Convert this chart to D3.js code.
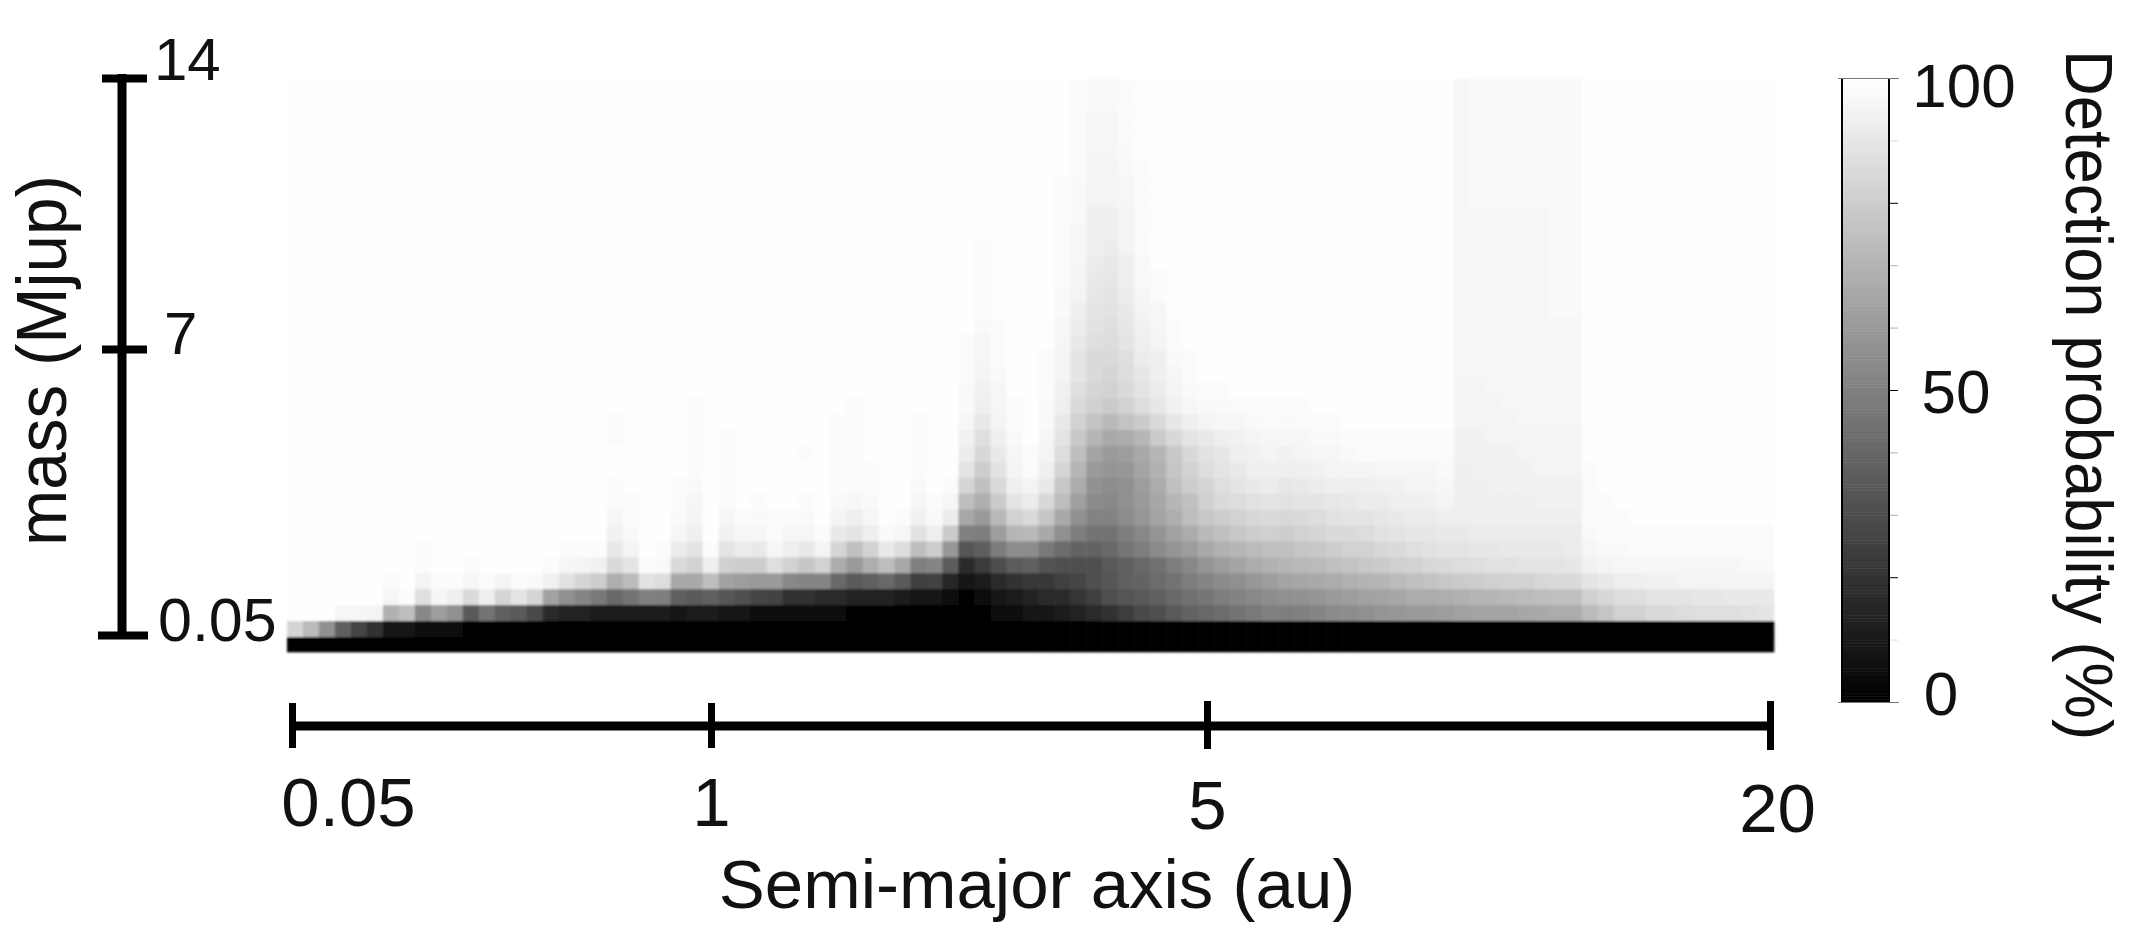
<!DOCTYPE html>
<html>
<head>
<meta charset="utf-8">
<title>Detection probability</title>
<script src="https://cdn.jsdelivr.net/npm/d3@7/dist/d3.min.js"></script>
<style>
html,body{margin:0;padding:0;background:#fff;}
svg{display:block;}
text{font-family:"Liberation Sans",Arial,sans-serif;fill:#111;}
</style>
</head>
<body>
<svg id="chart" width="2140" height="934"></svg>
<script>
// Detection probability (%), one array per mass row, bottom row first.
const row00=[0,0,0,0,0,0,0,0,0,0, 0,0,0,0,0,0,0,0,0,0, 0,0,0,0,0,0,0,0,0,0, 0,0,0,0,0,0,0,0,0,0, 0,0,0,0,0,0,0,0,0,0, 0,0,0,0,0,0,0,0,0,0, 0,0,0,0,0,0,0,0,0,0, 0,0,0,0,0,0,0,0,0,0, 0,0,0,0,0,0,0,0,0,0, 0,0,0];
const row01=[83,73,56,38,27,19,8,9,5,4, 4,2,2,1,1,1,0,0,0,0, 0,0,0,0,0,0,0,0,0,0, 0,0,0,0,0,0,0,0,0,0, 0,0,0,0,0,0,0,0,0,0, 0,0,0,0,0,0,0,0,0,0, 0,0,0,0,0,0,0,0,0,0, 0,0,0,0,0,0,0,0,0,0, 0,0,0,0,0,0,0,0,0,0, 0,0,0];
const row02=[99,99,99,96,96,95,69,74,53,61, 56,35,45,38,35,29,16,14,13,11, 10,11,11,11,9,10,10,7,7,6, 6,4,4,4,3,2,2,2,1,1, 1,1,0,1,4,5,8,9,11,13, 17,20,24,28,31,35,39,40,42,45, 47,50,49,50,52,54,55,56,58,59, 60,60,61,63,64,64,64,65,66,67, 67,73,77,82,82,85,85,86,87,87, 87,88,89];
const row03=[99,99,99,99,99,99,96,98,87,96, 93,85,93,83,89,83,63,56,52,47, 41,45,50,49,38,35,38,34,31,27, 26,20,19,17,16,14,13,13,10,8, 8,5,2,4,9,10,13,16,17,21, 25,31,33,35,38,41,44,46,49,51, 53,55,56,57,58,60,61,63,64,65, 67,67,68,69,71,71,72,73,74,75, 75,81,84,86,87,89,89,89,90,90, 91,91,91];
const row04=[99,99,99,99,99,99,98,99,95,98, 98,96,98,95,98,97,94,88,83,80, 68,73,88,86,66,66,74,63,61,60, 60,53,52,52,41,35,38,41,35,25, 26,15,9,11,16,20,22,22,25,27, 31,34,38,39,42,45,49,52,54,56, 59,61,64,65,66,67,69,70,71,73, 75,76,78,79,80,81,82,82,84,85, 85,89,91,93,93,94,94,95,95,95, 95,95,95];
const row05=[99,99,99,99,99,99,99,99,98,99, 99,98,99,99,99,99,98,96,95,94, 85,89,98,97,85,82,93,81,80,80, 87,82,77,82,67,60,68,74,66,50, 52,36,17,23,30,36,38,32,31,31, 31,35,38,40,44,49,53,58,61,64, 67,69,71,72,73,75,76,78,79,81, 82,84,85,86,87,88,88,89,89,89, 90,94,95,96,96,96,96,96,96,96, 96,97,97];
const row06=[99,99,99,99,99,99,99,99,98,99, 99,99,99,99,99,99,99,98,98,98, 91,95,99,98,92,89,98,89,92,91, 96,93,90,95,83,75,82,91,86,74, 80,59,33,37,48,55,55,47,42,39, 39,41,46,49,54,58,61,66,69,71, 73,75,75,77,78,80,82,82,84,85, 87,88,89,89,90,90,91,91,91,91, 92,96,97,97,98,98,98,98,98,98, 98,98,98];
const row07=[99,99,99,99,99,99,99,99,99,99, 99,99,99,99,99,99,99,99,99,99, 94,97,99,99,96,93,99,94,96,96, 98,96,96,98,91,89,93,97,96,88, 93,79,50,49,61,71,72,66,56,49, 45,45,49,53,58,63,67,72,75,78, 80,81,80,82,83,85,85,86,88,89, 90,90,91,91,92,92,92,92,92,92, 92,97,98,98,98,98,98,98,98,98, 98,98,98];
const row08=[99,99,99,99,99,99,99,99,99,99, 99,99,99,99,99,99,99,99,99,99, 96,98,99,99,97,95,99,96,98,97, 98,98,97,99,95,93,96,99,98,94, 97,92,65,60,72,82,85,77,66,56, 51,51,55,59,64,68,74,78,80,82, 84,85,84,85,86,88,89,89,90,91, 92,92,93,93,93,93,93,93,93,93, 93,98,98,98,99,99,99,99,99,99, 99,99,99];
const row09=[99,99,99,99,99,99,99,99,99,99, 99,99,99,99,99,99,99,99,99,99, 98,98,99,99,98,96,99,98,99,98, 99,99,98,99,97,96,97,99,99,96, 98,96,74,68,79,89,92,84,74,62, 54,53,56,60,65,71,75,81,85,86, 88,89,88,89,89,90,91,92,92,93, 93,94,95,93,93,93,93,93,94,94, 94,98,98,99,99,99,99,99,99,99, 99,99,99];
const row10=[99,99,99,99,99,99,99,99,99,99, 99,99,99,99,99,99,99,99,99,99, 98,99,99,99,98,97,99,98,99,99, 99,99,99,99,98,98,98,99,99,97, 99,98,83,75,85,93,95,91,78,67, 57,55,56,61,67,75,80,83,87,89, 91,92,90,91,92,93,93,93,94,94, 95,95,96,93,93,94,94,94,94,94, 94,98,99,99,99,99,99,99,99,99, 99,99,99];
const row11=[99,99,99,99,99,99,99,99,99,99, 99,99,99,99,99,99,99,99,99,99, 99,99,99,99,99,98,99,98,99,99, 99,99,99,99,98,98,98,99,99,98, 99,99,89,80,88,95,98,93,83,71, 60,58,59,64,69,77,82,86,89,91, 93,93,93,93,94,95,95,95,96,96, 96,96,97,93,94,94,94,94,95,95, 95,98,99,99,99,99,99,99,99,99, 99,99,99];
const row12=[99,99,99,99,99,99,99,99,99,99, 99,99,99,99,99,99,99,99,99,99, 99,99,99,99,99,98,99,98,99,99, 99,99,98,99,98,98,99,99,99,98, 99,99,92,84,91,96,98,95,86,74, 64,60,61,66,71,78,84,88,90,93, 94,95,94,95,96,96,97,98,98,98, 98,98,98,94,94,94,94,95,95,95, 95,99,99,99,99,99,99,99,99,99, 99,99,99];
const row13=[99,99,99,99,99,99,99,99,99,99, 99,99,99,99,99,99,99,99,99,99, 98,99,99,99,99,98,99,98,99,99, 99,99,99,99,98,98,99,99,99,98, 99,99,94,87,93,97,99,96,89,78, 71,66,67,71,79,84,89,91,93,94, 95,96,96,96,97,97,98,98,98,98, 98,98,98,94,94,95,95,95,95,95, 95,99,99,99,99,99,99,99,99,99, 99,99,99];
const row14=[99,99,99,99,99,99,99,99,99,99, 99,99,99,99,99,99,99,99,99,99, 98,99,99,99,99,98,99,99,99,99, 99,99,99,99,98,98,99,99,99,98, 99,99,96,90,95,98,99,97,91,82, 76,72,76,79,85,90,93,95,96,96, 97,98,97,98,98,98,99,99,99,99, 99,99,99,95,95,95,95,96,96,96, 96,99,99,99,99,99,99,99,99,99, 99,99,99];
const row15=[99,99,99,99,99,99,99,99,99,99, 99,99,99,99,99,99,99,99,99,99, 99,99,99,99,99,98,99,99,99,99, 99,99,99,99,99,98,99,99,99,99, 99,99,97,93,96,98,99,97,93,85, 81,79,82,86,90,94,96,97,97,98, 98,98,98,98,99,99,99,99,99,99, 99,99,99,95,95,95,96,96,96,96, 96,99,99,99,99,99,99,99,99,99, 99,99,99];
const row16=[99,99,99,99,99,99,99,99,99,99, 99,99,99,99,99,99,99,99,99,99, 99,99,99,99,99,99,99,99,99,99, 99,99,99,99,99,99,99,99,99,99, 99,99,97,94,96,99,99,98,94,87, 83,82,85,89,92,95,97,98,98,99, 99,99,99,99,99,99,99,99,99,99, 99,99,99,95,95,96,96,96,96,96, 96,99,99,99,99,99,99,99,99,99, 99,99,99];
const row17=[99,99,99,99,99,99,99,99,99,99, 99,99,99,99,99,99,99,99,99,99, 99,99,99,99,99,99,99,99,99,99, 99,99,99,99,99,99,99,99,99,99, 99,99,98,95,97,99,99,98,95,89, 85,83,86,90,93,96,98,99,99,99, 99,99,99,99,99,99,99,99,99,99, 99,99,99,96,96,96,96,96,96,96, 96,99,99,99,99,99,99,99,99,99, 99,99,99];
const row18=[99,99,99,99,99,99,99,99,99,99, 99,99,99,99,99,99,99,99,99,99, 99,99,99,99,99,99,99,99,99,99, 99,99,99,99,99,99,99,99,99,99, 99,99,98,96,98,99,99,98,95,89, 85,85,87,92,93,97,98,99,99,99, 99,99,99,99,99,99,99,99,99,99, 99,99,99,96,96,96,96,96,96,96, 96,99,99,99,99,99,99,99,99,99, 99,99,99];
const row19=[99,99,99,99,99,99,99,99,99,99, 99,99,99,99,99,99,99,99,99,99, 99,99,99,99,99,99,99,99,99,99, 99,99,99,99,99,99,99,99,99,99, 99,99,98,96,98,99,99,99,96,91, 87,86,89,93,95,98,99,99,99,99, 99,99,99,99,99,99,99,99,99,99, 99,99,99,96,96,96,96,96,96,96, 96,99,99,99,99,99,99,99,99,99, 99,99,99];
const row20=[99,99,99,99,99,99,99,99,99,99, 99,99,99,99,99,99,99,99,99,99, 99,99,99,99,99,99,99,99,99,99, 99,99,99,99,99,99,99,99,99,99, 99,99,99,97,98,99,99,99,96,92, 88,87,90,94,96,98,99,99,99,99, 99,99,99,99,99,99,99,99,99,99, 99,99,99,96,96,96,96,96,96,96, 96,99,99,99,99,99,99,99,99,99, 99,99,99];
const row21=[99,99,99,99,99,99,99,99,99,99, 99,99,99,99,99,99,99,99,99,99, 99,99,99,99,99,99,99,99,99,99, 99,99,99,99,99,99,99,99,99,99, 99,99,99,98,99,99,99,99,97,93, 89,88,91,95,96,99,99,99,99,99, 99,99,99,99,99,99,99,99,99,99, 99,99,99,96,96,96,96,96,96,97, 97,99,99,99,99,99,99,99,99,99, 99,99,99];
const row22=[99,99,99,99,99,99,99,99,99,99, 99,99,99,99,99,99,99,99,99,99, 99,99,99,99,99,99,99,99,99,99, 99,99,99,99,99,99,99,99,99,99, 99,99,99,98,99,99,99,99,97,95, 90,89,92,96,98,99,99,99,99,99, 99,99,99,99,99,99,99,99,99,99, 99,99,99,96,96,96,96,96,96,97, 97,99,99,99,99,99,99,99,99,99, 99,99,99];
const row23=[99,99,99,99,99,99,99,99,99,99, 99,99,99,99,99,99,99,99,99,99, 99,99,99,99,99,99,99,99,99,99, 99,99,99,99,99,99,99,99,99,99, 99,99,99,98,99,99,99,99,98,95, 91,90,93,97,98,99,99,99,99,99, 99,99,99,99,99,99,99,99,99,99, 99,99,99,96,96,96,96,96,96,97, 97,99,99,99,99,99,99,99,99,99, 99,99,99];
const row24=[99,99,99,99,99,99,99,99,99,99, 99,99,99,99,99,99,99,99,99,99, 99,99,99,99,99,99,99,99,99,99, 99,99,99,99,99,99,99,99,99,99, 99,99,99,98,99,99,99,99,98,96, 92,91,93,97,99,99,99,99,99,99, 99,99,99,99,99,99,99,99,99,99, 99,99,99,96,96,96,96,96,96,97, 97,99,99,99,99,99,99,99,99,99, 99,99,99];
const row25=[99,99,99,99,99,99,99,99,99,99, 99,99,99,99,99,99,99,99,99,99, 99,99,99,99,99,99,99,99,99,99, 99,99,99,99,99,99,99,99,99,99, 99,99,99,98,99,99,99,99,98,96, 93,92,95,98,99,99,99,99,99,99, 99,99,99,99,99,99,99,99,99,99, 99,99,99,96,96,96,96,96,96,97, 97,99,99,99,99,99,99,99,99,99, 99,99,99];
const row26=[99,99,99,99,99,99,99,99,99,99, 99,99,99,99,99,99,99,99,99,99, 99,99,99,99,99,99,99,99,99,99, 99,99,99,99,99,99,99,99,99,99, 99,99,99,99,99,99,99,99,98,96, 93,93,95,98,99,99,99,99,99,99, 99,99,99,99,99,99,99,99,99,99, 99,99,99,96,96,96,96,96,96,97, 97,99,99,99,99,99,99,99,99,99, 99,99,99];
const row27=[99,99,99,99,99,99,99,99,99,99, 99,99,99,99,99,99,99,99,99,99, 99,99,99,99,99,99,99,99,99,99, 99,99,99,99,99,99,99,99,99,99, 99,99,99,99,99,99,99,99,98,97, 93,93,95,98,99,99,99,99,99,99, 99,99,99,99,99,99,99,99,99,99, 99,99,99,96,96,96,96,96,96,97, 97,99,99,99,99,99,99,99,99,99, 99,99,99];
const row28=[99,99,99,99,99,99,99,99,99,99, 99,99,99,99,99,99,99,99,99,99, 99,99,99,99,99,99,99,99,99,99, 99,99,99,99,99,99,99,99,99,99, 99,99,99,99,99,99,99,99,98,97, 95,95,96,98,99,99,99,99,99,99, 99,99,99,99,99,99,99,99,99,99, 99,99,99,96,97,97,97,97,97,97, 97,99,99,99,99,99,99,99,99,99, 99,99,99];
const row29=[99,99,99,99,99,99,99,99,99,99, 99,99,99,99,99,99,99,99,99,99, 99,99,99,99,99,99,99,99,99,99, 99,99,99,99,99,99,99,99,99,99, 99,99,99,99,99,99,99,99,98,97, 95,95,96,98,99,99,99,99,99,99, 99,99,99,99,99,99,99,99,99,99, 99,99,99,96,97,97,97,97,97,97, 97,99,99,99,99,99,99,99,99,99, 99,99,99];
const row30=[99,99,99,99,99,99,99,99,99,99, 99,99,99,99,99,99,99,99,99,99, 99,99,99,99,99,99,99,99,99,99, 99,99,99,99,99,99,99,99,99,99, 99,99,99,99,99,99,99,99,99,98, 95,95,97,98,99,99,99,99,99,99, 99,99,99,99,99,99,99,99,99,99, 99,99,99,96,97,97,97,97,97,97, 97,99,99,99,99,99,99,99,99,99, 99,99,99];
const row31=[99,99,99,99,99,99,99,99,99,99, 99,99,99,99,99,99,99,99,99,99, 99,99,99,99,99,99,99,99,99,99, 99,99,99,99,99,99,99,99,99,99, 99,99,99,99,99,99,99,99,99,98, 96,96,97,99,99,99,99,99,99,99, 99,99,99,99,99,99,99,99,99,99, 99,99,99,96,97,97,97,97,97,97, 97,99,99,99,99,99,99,99,99,99, 99,99,99];
const row32=[99,99,99,99,99,99,99,99,99,99, 99,99,99,99,99,99,99,99,99,99, 99,99,99,99,99,99,99,99,99,99, 99,99,99,99,99,99,99,99,99,99, 99,99,99,99,99,99,99,99,99,98, 96,96,98,99,99,99,99,99,99,99, 99,99,99,99,99,99,99,99,99,99, 99,99,99,96,97,97,97,97,97,97, 97,99,99,99,99,99,99,99,99,99, 99,99,99];
const row33=[99,99,99,99,99,99,99,99,99,99, 99,99,99,99,99,99,99,99,99,99, 99,99,99,99,99,99,99,99,99,99, 99,99,99,99,99,99,99,99,99,99, 99,99,99,99,99,99,99,99,99,98, 96,96,98,99,99,99,99,99,99,99, 99,99,99,99,99,99,99,99,99,99, 99,99,99,96,97,97,97,97,97,97, 97,99,99,99,99,99,99,99,99,99, 99,99,99];
const row34=[99,99,99,99,99,99,99,99,99,99, 99,99,99,99,99,99,99,99,99,99, 99,99,99,99,99,99,99,99,99,99, 99,99,99,99,99,99,99,99,99,99, 99,99,99,99,99,99,99,99,99,98, 97,97,98,99,99,99,99,99,99,99, 99,99,99,99,99,99,99,99,99,99, 99,99,99,96,97,97,97,97,97,97, 97,99,99,99,99,99,99,99,99,99, 99,99,99];
const row35=[99,99,99,99,99,99,99,99,99,99, 99,99,99,99,99,99,99,99,99,99, 99,99,99,99,99,99,99,99,99,99, 99,99,99,99,99,99,99,99,99,99, 99,99,99,99,99,99,99,99,99,98, 97,97,98,99,99,99,99,99,99,99, 99,99,99,99,99,99,99,99,99,99, 99,99,99,96,97,97,97,97,97,97, 97,99,99,99,99,99,99,99,99,99, 99,99,99];
const detectionRows=[row00,row01,row02,row03,row04,row05,row06,row07,row08,row09,row10,row11,row12,row13,row14,row15,row16,row17,row18,row19,row20,row21,row22,row23,row24,row25,row26,row27,row28,row29,row30,row31,row32,row33,row34,row35];

const semiMajorTicks=[0.05,1,5,20];
const massTicks=[0.05,7,14];
const colorbarLabels=[0,50,100];
const colorbarMinorTicks=[0,10,20,30,40,50,60,70,80,90,100];
const colorbarStrongTicks=[20,50,80];

const svg=d3.select("#chart");
const grey=d3.scaleLinear().domain([0,99,100]).range(["#000000","#fefefe","#ffffff"]);

// heatmap
const defs=svg.append("defs");
defs.append("filter").attr("id","soft").attr("x","-2%").attr("y","-2%").attr("width","104%").attr("height","104%")
  .attr("filterUnits","objectBoundingBox")
  .append("feGaussianBlur").attr("stdDeviation",0.8);

const colX=d3.scaleBand().domain(d3.range(detectionRows[0].length)).range([287,1773.7]).paddingInner(0).paddingOuter(0);
const rowY=d3.scaleBand().domain(d3.range(detectionRows.length)).range([652.3,79]).paddingInner(0).paddingOuter(0);
const cells=detectionRows.flatMap((r,ri)=>r.map((v,ci)=>({ri,ci,v})));
svg.append("g").attr("filter","url(#soft)").selectAll("rect").data(cells).join("rect")
  .attr("x",d=>colX(d.ci))
  .attr("y",d=>rowY(d.ri))
  .attr("width",colX.bandwidth()+0.6)
  .attr("height",d=>d.ri===0?rowY.bandwidth():rowY.bandwidth()+0.6)
  .attr("fill",d=>grey(d.v));

// x axis
const xPos=d3.scaleLinear().domain(semiMajorTicks).range([292,711,1207,1770]);
const xLift=[0,0,1,2];
const xAxisG=svg.append("g").attr("transform","translate(0,726)")
  .call(d3.axisBottom(xPos).tickValues(semiMajorTicks).tickFormat(d=>String(d)).tickSize(22).tickPadding(0));
xAxisG.select(".domain").attr("stroke","#000").attr("stroke-width",9).attr("d","M292,0H1770");
xAxisG.selectAll(".tick line").attr("stroke","#000").attr("stroke-width",7)
  .attr("y1",(d,i)=>-23-(i>1?2:0)).attr("y2",(d,i)=>22+xLift[i]);
xAxisG.selectAll(".tick text").attr("font-size",69).attr("fill","#111").attr("dy",null)
  .attr("y",(d,i)=>100+[0,0,3,6][i]).attr("dominant-baseline","auto")
  .style("font-family",'"Liberation Sans",Arial,sans-serif');
xAxisG.selectAll(".tick text").attr("dx",d=>d===20?7:(d===0.05?56:0));
svg.append("text").attr("x",1037).attr("y",908).attr("text-anchor","middle").attr("font-size",69)
  .text("Semi-major axis (au)");

// y axis
const yPos=d3.scaleLinear().domain(massTicks).range([635,349,78]);
const yAxisG=svg.append("g").attr("transform","translate(122,0)")
  .call(d3.axisRight(yPos).tickValues(massTicks).tickFormat(d=>String(d)).tickSize(25).tickPadding(0));
yAxisG.select(".domain").attr("stroke","#000").attr("stroke-width",9).attr("d","M0,74V639");
yAxisG.selectAll(".tick line").attr("stroke","#000").attr("stroke-width",8)
  .attr("x1",d=>d===0.05?-24:-20).attr("x2",d=>d===0.05?26:25);
yAxisG.selectAll(".tick text").attr("font-size",d=>d===0.05?61:60).attr("fill","#111").attr("text-anchor","start")
  .attr("dy",null).attr("dominant-baseline","auto")
  .attr("x",d=>d===7?42:(d===14?32:36))
  .attr("y",d=>d===14?1:(d===7?4:5))
  .style("font-family",'"Liberation Sans",Arial,sans-serif');
svg.append("text").attr("transform","translate(66,546) rotate(-90)").attr("font-size",70)
  .attr("textLength",371).attr("lengthAdjust","spacingAndGlyphs").text("mass (Mjup)");

// colorbar
const barY=d3.scaleLinear().domain([0,100]).range([702.5,78.5]);
const barLevels=d3.range(0,100,0.5);
svg.append("g").selectAll("rect").data(barLevels).join("rect")
  .attr("x",1841).attr("width",49)
  .attr("y",d=>barY(d+0.5)).attr("height",d=>barY(d)-barY(d+0.5)+0.5)
  .attr("fill",d=>grey(d));
svg.append("line").attr("x1",1842).attr("x2",1842).attr("y1",78.5).attr("y2",702.5).attr("stroke","#000").attr("stroke-width",2);
svg.append("line").attr("x1",1889).attr("x2",1889).attr("y1",78.5).attr("y2",702.5).attr("stroke","#000").attr("stroke-width",2);
svg.append("g").selectAll("line").data(colorbarMinorTicks).join("line")
  .attr("x1",d=>(d===0||d===100)?1838:1890).attr("x2",d=>(d===0||d===100)?1899:1898)
  .attr("y1",d=>barY(d)).attr("y2",d=>barY(d))
  .attr("stroke",d=>colorbarStrongTicks.includes(d)?"#000":((d===0||d===100)?"#777":(d===10||d===90?"#ddd":"#b0b0b0")))
  .attr("stroke-width",1);
svg.append("g").selectAll("text").data(colorbarLabels).join("text")
  .attr("x",d=>d===100?1964:(d===50?1956:1941))
  .attr("y",d=>d===100?106.5:(d===50?413:715))
  .attr("text-anchor","middle").attr("font-size",62).text(d=>d);
svg.append("text").attr("transform","translate(2066,50) rotate(90)").attr("font-size",66)
  .attr("textLength",690).attr("lengthAdjust","spacingAndGlyphs").text("Detection probability (%)");
</script>
</body>
</html>
